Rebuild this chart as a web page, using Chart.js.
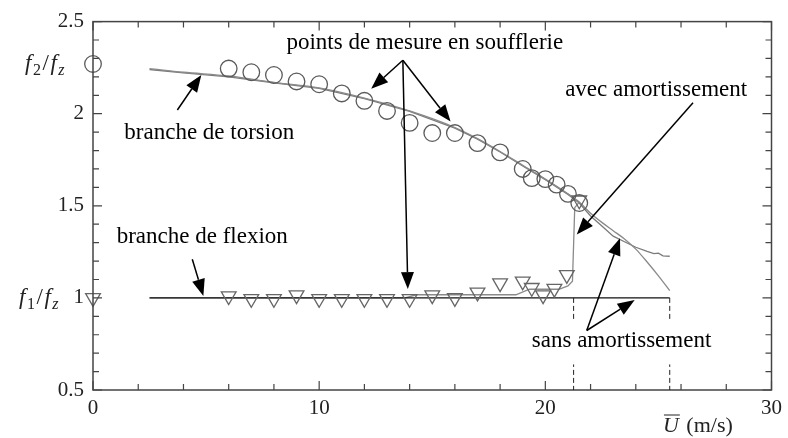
<!DOCTYPE html>
<html>
<head>
<meta charset="utf-8">
<script src="https://cdn.jsdelivr.net/npm/chart.js@4/dist/chart.umd.min.js"></script>
<style>
  html, body { margin: 0; padding: 0; background: #fff; }
  #wrap { width: 788px; height: 438px; }
</style>
</head>
<body>
<div id="wrap"><canvas id="canvas"></canvas></div>
<script>
// mesures en soufflerie
var circleX = [0, 6, 7, 8, 9, 10, 11, 12, 13, 14, 15, 16, 17, 18, 19, 19.4, 20, 20.5, 21, 21.5];
var circleY = [2.27, 2.245, 2.225, 2.21, 2.175, 2.16, 2.11, 2.07, 2.015, 1.95, 1.895, 1.895, 1.84, 1.79, 1.70, 1.65, 1.645, 1.615, 1.565, 1.515];
var triX = [0, 6, 7, 8, 9, 10, 11, 12, 13, 14, 15, 16, 17, 18, 19, 19.4, 19.9, 20.4, 20.95, 21.5];
var triY = [1.0, 1.01, 0.995, 0.995, 1.015, 0.995, 0.995, 0.995, 0.995, 0.995, 1.015, 1.0, 1.03, 1.08, 1.09, 1.055, 1.015, 1.05, 1.125, 1.53];

// branches calculees
var torsionSansX = [2.5, 4, 6, 8, 10, 12, 14, 16, 17, 18, 19, 20, 21, 21.5, 22, 22.5, 23, 23.5, 24, 24.5, 25, 25.5];
var torsionSansY = [2.245, 2.225, 2.205, 2.17, 2.14, 2.085, 2.015, 1.925, 1.865, 1.795, 1.72, 1.645, 1.565, 1.52, 1.46, 1.41, 1.365, 1.32, 1.265, 1.195, 1.12, 1.04];
var torsionAvecX = [2.5, 4, 6, 8, 10, 12, 14, 16, 17, 18, 19, 20, 21, 21.5, 22, 22.5, 23, 23.5, 24, 24.5, 24.8, 25.0, 25.2, 25.5];
var torsionAvecY = [2.24, 2.222, 2.2, 2.168, 2.137, 2.082, 2.012, 1.922, 1.862, 1.792, 1.717, 1.642, 1.562, 1.515, 1.445, 1.39, 1.335, 1.305, 1.275, 1.252, 1.24, 1.243, 1.228, 1.226];
var flexionAvecX = [2.5, 13.8, 14.3, 18.7, 19.3, 20.6, 21.0, 21.2, 21.3, 21.5];
var flexionAvecY = [1.0, 1.0, 1.017, 1.017, 1.047, 1.047, 1.065, 1.09, 1.49, 1.52];
var flexionSansX = [2.5, 25.5];
var flexionSansY = [1.0, 1.0];
var dashX = [21.25, 25.5];

// annotations (unites des axes)
var arrows = [
  [3.73, 2.02, 4.79, 2.21],
  [4.39, 1.21, 4.88, 1.01],
  [13.7, 2.29, 12.3, 2.135],
  [13.7, 2.29, 15.81, 1.957],
  [13.7, 2.29, 13.92, 1.048],
  [26.53, 2.06, 21.39, 1.344],
  [21.83, 0.823, 23.3, 1.324],
  [21.83, 0.823, 23.95, 0.988]
];
// [texte, x, y, fond blanc]
var labels = [
  ["points de mesure en soufflerie", 14.67, 2.35, false],
  ["branche de torsion", 5.14, 1.86, false],
  ["branche de flexion", 4.83, 1.30, false],
  ["avec amortissement", 24.9, 2.097, false],
  ["sans amortissement", 23.37, 0.731, true]
];

function pts(xs, ys) {
  return xs.map(function (x, i) { return { x: x, y: ys[i] }; });
}

var serif = '"Liberation Serif", "Times New Roman", serif';

var extras = {
  id: 'extras',
  afterDraw: function (chart) {
    var ctx = chart.ctx, a = chart.chartArea;
    var sx = chart.scales.x, sy = chart.scales.y;
    ctx.save();
    // cadre
    ctx.strokeStyle = '#444';
    ctx.lineWidth = 1.5;
    ctx.strokeRect(a.left, a.top, a.right - a.left, a.bottom - a.top);
    // graduations vers l'interieur
    ctx.lineWidth = 1.2;
    ctx.beginPath();
    for (var v = 0; v <= 30; v += 2) {
      var px = sx.getPixelForValue(v);
      var len = v % 10 === 0 ? 9 : 6;
      ctx.moveTo(px, a.bottom); ctx.lineTo(px, a.bottom - len);
      ctx.moveTo(px, a.top); ctx.lineTo(px, a.top + len);
    }
    for (var k = 5; k <= 25; k++) {
      var py = sy.getPixelForValue(k / 10);
      var l2 = k % 5 === 0 ? 9 : 6;
      ctx.moveTo(a.left, py); ctx.lineTo(a.left + l2, py);
      ctx.moveTo(a.right, py); ctx.lineTo(a.right - l2, py);
    }
    ctx.stroke();
    // lignes pointillees
    ctx.strokeStyle = '#222';
    ctx.lineWidth = 1;
    ctx.setLineDash([5, 3]);
    ctx.beginPath();
    dashX.forEach(function (d) {
      var px = sx.getPixelForValue(d);
      ctx.moveTo(px, sy.getPixelForValue(1.0));
      ctx.lineTo(px, a.bottom);
    });
    ctx.stroke();
    ctx.setLineDash([]);
    // fonds blancs sous certains textes
    ctx.font = '23px ' + serif;
    ctx.fillStyle = '#fff';
    labels.forEach(function (t) {
      if (!t[3]) return;
      var w = ctx.measureText(t[0]).width;
      var cx = sx.getPixelForValue(t[1]), by = sy.getPixelForValue(t[2]);
      ctx.fillRect(cx - w / 2 - 4, by - 27, w + 8, 44);
    });
    // fleches
    ctx.strokeStyle = '#000';
    ctx.fillStyle = '#000';
    ctx.lineWidth = 1.5;
    arrows.forEach(function (r) {
      var x0 = sx.getPixelForValue(r[0]), y0 = sy.getPixelForValue(r[1]);
      var x1 = sx.getPixelForValue(r[2]), y1 = sy.getPixelForValue(r[3]);
      var ang = Math.atan2(y1 - y0, x1 - x0);
      var hl = 17, hw = 6.5;
      var bx = x1 - hl * Math.cos(ang), by = y1 - hl * Math.sin(ang);
      ctx.beginPath();
      ctx.moveTo(x0, y0); ctx.lineTo(bx, by);
      ctx.stroke();
      ctx.beginPath();
      ctx.moveTo(x1, y1);
      ctx.lineTo(bx + hw * Math.sin(ang), by - hw * Math.cos(ang));
      ctx.lineTo(bx - hw * Math.sin(ang), by + hw * Math.cos(ang));
      ctx.closePath();
      ctx.fill();
    });
    // textes
    ctx.font = '23px ' + serif;
    ctx.textAlign = 'center';
    ctx.textBaseline = 'alphabetic';
    labels.forEach(function (t) {
      ctx.fillText(t[0], sx.getPixelForValue(t[1]), sy.getPixelForValue(t[2]));
    });
    // f2/fz et f1/fz
    function ratio(sub, xr, yb) {
      var parts = [
        ['italic 23px ' + serif, 'f', 0],
        ['16px ' + serif, sub, 5],
        ['23px ' + serif, '/', 0],
        ['italic 23px ' + serif, 'f', 0],
        ['italic 16px ' + serif, 'z', 5]
      ];
      var w = 0;
      parts.forEach(function (p) { ctx.font = p[0]; w += ctx.measureText(p[1]).width + 1.5; });
      var x = xr - w;
      ctx.textAlign = 'left';
      ctx.fillStyle = '#222';
      parts.forEach(function (p) {
        ctx.font = p[0];
        ctx.fillText(p[1], x, yb + p[2]);
        x += ctx.measureText(p[1]).width + 1.5;
      });
    }
    ratio('2', 66, sy.getPixelForValue(2.237));
    ratio('1', 60, sy.getPixelForValue(0.965));
    // titre de l'axe x
    var ux = sx.getPixelForValue(25.2), uy = a.bottom + 42;
    ctx.font = 'italic 22px ' + serif;
    ctx.fillText('U', ux, uy);
    var uw = ctx.measureText('U').width;
    ctx.lineWidth = 1;
    ctx.strokeStyle = '#222';
    ctx.beginPath();
    ctx.moveTo(ux + 1, uy - 17); ctx.lineTo(ux + uw + 1, uy - 17);
    ctx.stroke();
    ctx.font = '22px ' + serif;
    ctx.fillText(' (m/s)', ux + uw + 2, uy);
    ctx.restore();
  }
};

new Chart('canvas', {
  type: 'scatter',
  data: {
    datasets: [
      {
        data: pts(circleX, circleY),
        pointStyle: 'circle', pointRadius: 8.3, pointBorderWidth: 1.3,
        pointBorderColor: '#5a5a5a', pointBackgroundColor: 'rgba(0,0,0,0)',
        showLine: false, clip: false
      },
      {
        data: pts(triX, triY),
        pointStyle: 'triangle', rotation: 180, pointRadius: 8.5, pointBorderWidth: 1.3,
        pointBorderColor: '#666', pointBackgroundColor: 'rgba(0,0,0,0)',
        showLine: false, clip: false
      },
      {
        data: pts(flexionSansX, flexionSansY),
        showLine: true, borderColor: '#111', borderWidth: 1.3, pointRadius: 0
      },
      {
        data: pts(flexionAvecX, flexionAvecY),
        showLine: true, borderColor: '#8a8a8a', borderWidth: 1.3, pointRadius: 0
      },
      {
        data: pts(torsionSansX, torsionSansY),
        showLine: true, borderColor: '#8a8a8a', borderWidth: 1.3, pointRadius: 0,
        cubicInterpolationMode: 'monotone'
      },
      {
        data: pts(torsionAvecX, torsionAvecY),
        showLine: true, borderColor: '#7a7a7a', borderWidth: 1.3, pointRadius: 0
      }
    ]
  },
  options: {
    responsive: true,
    maintainAspectRatio: false,
    animation: false,
    layout: { padding: { top: 18, right: 12, left: 0, bottom: 0 } },
    plugins: { legend: { display: false }, tooltip: { enabled: false } },
    scales: {
      x: {
        type: 'linear', min: 0, max: 30,
        grid: { display: false, drawTicks: false },
        border: { display: false },
        ticks: { stepSize: 10, padding: 6, color: '#222', font: { family: serif, size: 21 } },
        afterFit: function (s) { s.height = 48; }
      },
      y: {
        type: 'linear', min: 0.5, max: 2.5,
        grid: { display: false, drawTicks: false },
        border: { display: false },
        ticks: {
          stepSize: 0.5, padding: 9, color: '#222', font: { family: serif, size: 21 },
          callback: function (v) { return String(v); }
        },
        afterFit: function (s) { s.width = 93; }
      }
    }
  },
  plugins: [extras]
});
</script>
</body>
</html>
